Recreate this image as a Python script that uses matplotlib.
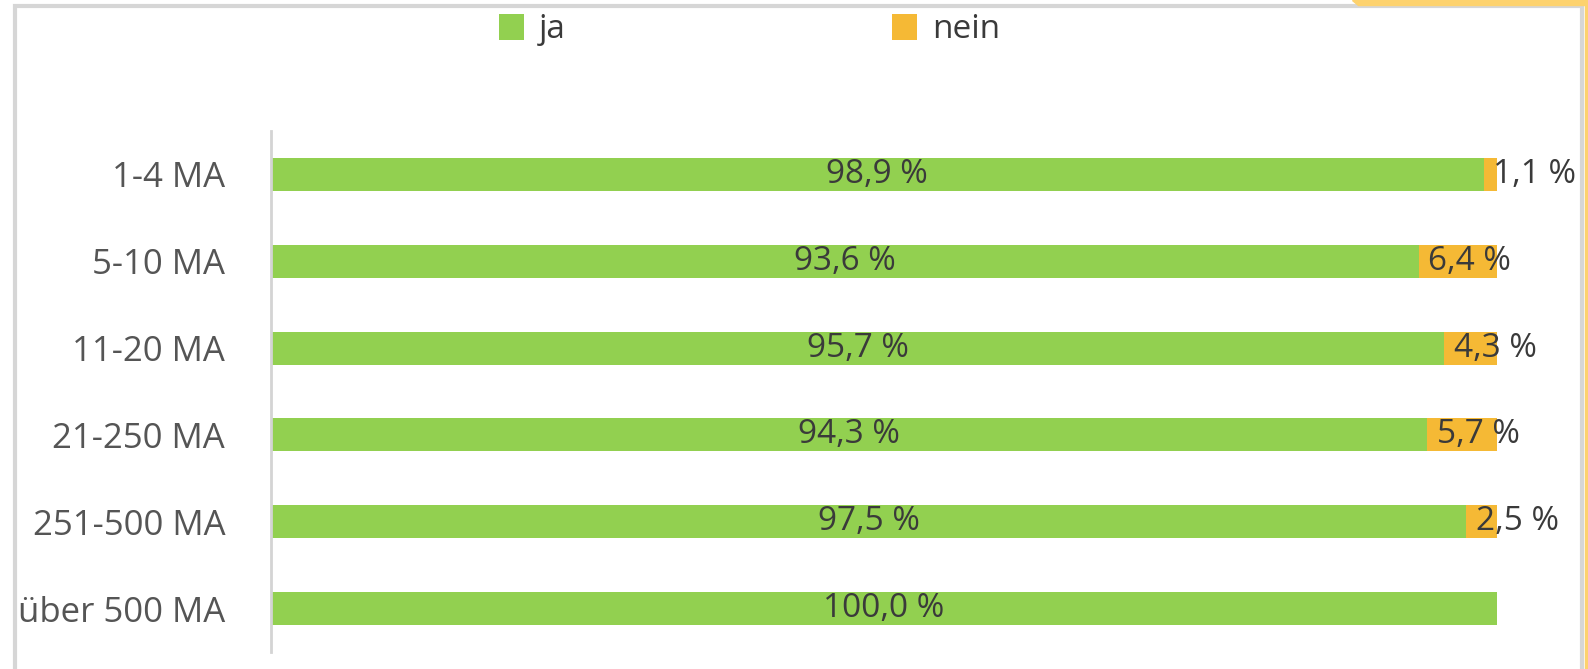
import numpy as np
import matplotlib
matplotlib.use("Agg")
import matplotlib.pyplot as plt
from matplotlib.patches import Rectangle, Polygon

plt.rcParams['font.family'] = ['Open Sans', 'DejaVu Sans']

# data
categories = ['1-4 MA', '5-10 MA', '11-20 MA', '21-250 MA', '251-500 MA', 'über 500 MA']
ja = [98.9, 93.6, 95.7, 94.3, 97.5, 100.0]
nein = [1.1, 6.4, 4.3, 5.7, 2.5, 0.0]

green = '#92D050'
orange = '#F5B935'
txt = '#3a3a3a'

fig = plt.figure(figsize=(15.88, 6.69), dpi=100)
ax = fig.add_axes([271/1588, 1-652/669, (1497-271)/1588, (652-131)/669])

y = np.arange(len(categories))
b1 = ax.barh(y, ja, height=0.38, color=green, label='ja')
b2 = ax.barh(y, nein, left=ja, height=0.38, color=orange, label='nein')

ax.set_xlim(0, 100)
ax.set_ylim(len(categories)-0.5, -0.5)
ax.set_yticks(y)
ax.set_yticklabels(categories, fontsize=25, color='#555555')
ax.tick_params(axis='y', length=0, pad=33)
ax.set_xticks([])
for s in ['top', 'right', 'bottom']:
    ax.spines[s].set_visible(False)
ax.spines['left'].set_color('#d4d4d4')
ax.spines['left'].set_linewidth(2)

# data labels
for i in range(len(categories)):
    ax.text(ja[i]/2, y[i], f"{ja[i]:.1f} %".replace('.', ','), ha='center', va='center',
            fontsize=24, color=txt)
    if nein[i] > 0:
        ax.annotate(f"{nein[i]:.1f} %".replace('.', ','), (ja[i], y[i]),
                    xytext=(7, 0), textcoords='offset points', ha='left', va='center',
                    fontsize=24, color=txt, annotation_clip=False)

leg = fig.legend(handles=[b1, b2], loc='center', bbox_to_anchor=(0.472, 1-30/669), ncol=2,
                 frameon=False, fontsize=24, handlelength=0.75, handleheight=0.85,
                 handletextpad=0.45, columnspacing=9.8)
for t in leg.get_texts():
    t.set_color(txt)

# screenshot frame
fig.patches.append(Rectangle((15/1588, -0.05), (1582-15)/1588, 1.05-6/669, transform=fig.transFigure,
                             fill=False, edgecolor='#d6d6d6', linewidth=3))
fig.patches.append(Polygon([[1352/1588, 1], [1588/1588, 1], [1588/1588, 1-5/669], [1358/1588, 1-5/669]],
                           closed=True, transform=fig.transFigure, color='#FDD26E'))
fig.patches.append(Rectangle((1585/1588, 0), 3/1588, 1, transform=fig.transFigure, color='#FDD26E'))

fig.savefig('out.png', dpi=100)
